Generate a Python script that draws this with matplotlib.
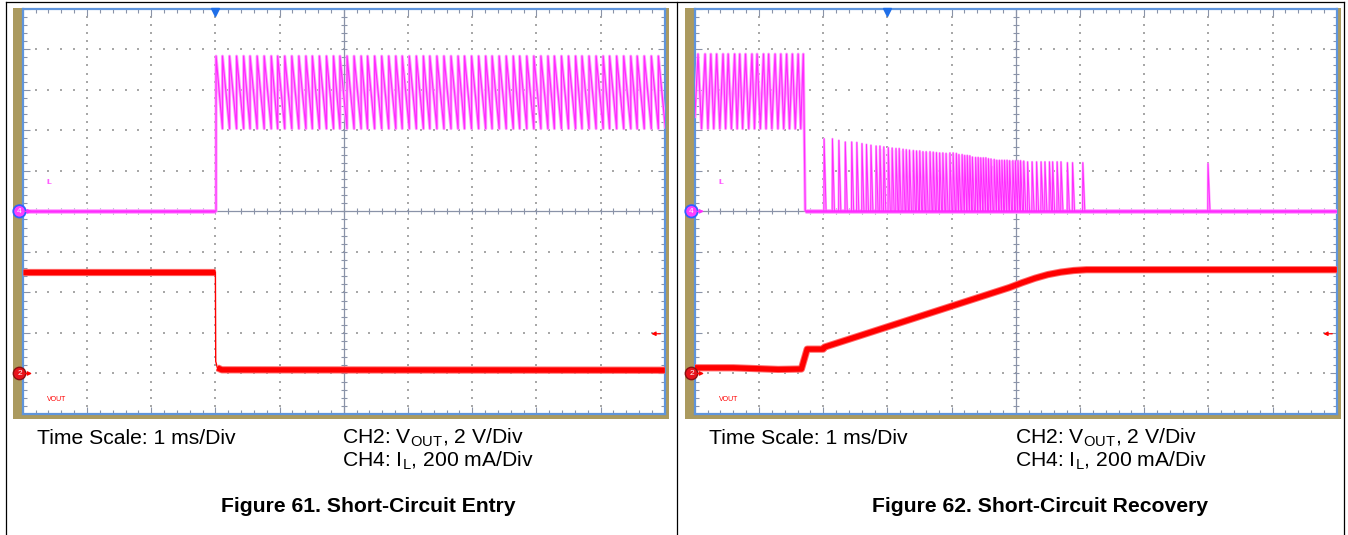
import numpy as np
import matplotlib
matplotlib.use("Agg")
import matplotlib.pyplot as plt
from matplotlib.patches import Rectangle, Circle

plt.rcParams['font.family'] = ['Liberation Sans', 'DejaVu Sans']
plt.rcParams['mathtext.default'] = 'regular'

W, H = 1348, 535

# time in divisions (1 ms/div), amplitude in divisions (screen centre = 0)
# ---- Figure 61: short-circuit entry ----
il_entry_short = 3.0
il_entry_teeth = [3.01, 3.11, 3.22, 3.33, 3.44, 3.54, 3.65, 3.76, 3.87, 3.97,
                  4.08, 4.19, 4.30, 4.41, 4.51, 4.62, 4.73, 4.84, 4.94, 5.05,
                  5.16, 5.27, 5.37, 5.48, 5.59, 5.70, 5.81, 5.91, 6.02, 6.13,
                  6.24, 6.34, 6.45, 6.56, 6.67, 6.78, 6.88, 6.99, 7.10, 7.21,
                  7.31, 7.42, 7.53, 7.64, 7.74, 7.85, 7.96, 8.07, 8.18, 8.28,
                  8.39, 8.50, 8.61, 8.71, 8.82, 8.93, 9.04, 9.14, 9.25, 9.36,
                  9.47, 9.57, 9.68, 9.79, 9.90]
il_entry_top = 3.83
il_entry_bot = 2.04

vout_entry_t = [0.0, 3.00, 3.005, 3.03, 3.10, 10.0]
vout_entry_y = [-1.50, -1.50, -3.70, -3.86, -3.91, -3.92]

# ---- Figure 62: short-circuit recovery ----
il_rec_teeth = [0.05, 0.16, 0.25, 0.34, 0.44, 0.52, 0.62, 0.70, 0.79, 0.89,
                0.97, 1.07, 1.15, 1.25, 1.34, 1.43, 1.52, 1.61, 1.69]
il_rec_top = 3.88
il_rec_bot = 2.04
il_rec_release = 1.72
il_rec_spike_t = [2.01, 2.14, 2.24, 2.34, 2.44, 2.52, 2.60, 2.67, 2.74, 2.82,
                  2.88, 2.94, 3.01, 3.07, 3.13, 3.18, 3.24, 3.29, 3.34, 3.40,
                  3.45, 3.50, 3.55, 3.60, 3.66, 3.71, 3.76, 3.81, 3.86, 3.91,
                  3.97, 4.02, 4.07, 4.11, 4.16, 4.20, 4.24, 4.28, 4.32, 4.37,
                  4.41, 4.45, 4.49, 4.53, 4.57, 4.61, 4.66, 4.70, 4.74, 4.78,
                  4.82, 4.86, 4.90, 4.95, 4.99, 5.03, 5.07, 5.12, 5.18, 5.25,
                  5.32, 5.39, 5.45, 5.52, 5.57, 5.64, 5.70, 5.80, 5.88, 6.04,
                  7.99]
il_rec_spike_h = [1.79, 1.79, 1.75, 1.71, 1.71, 1.70, 1.67, 1.65, 1.63, 1.61,
                  1.61, 1.59, 1.57, 1.56, 1.55, 1.55, 1.53, 1.52, 1.51, 1.50,
                  1.49, 1.49, 1.47, 1.47, 1.47, 1.46, 1.45, 1.44, 1.44, 1.43,
                  1.44, 1.44, 1.43, 1.40, 1.40, 1.38, 1.38, 1.37, 1.34, 1.33,
                  1.33, 1.32, 1.32, 1.32, 1.30, 1.29, 1.28, 1.26, 1.26, 1.26,
                  1.26, 1.26, 1.25, 1.25, 1.25, 1.25, 1.25, 1.24, 1.22, 1.22,
                  1.22, 1.22, 1.22, 1.22, 1.22, 1.22, 1.22, 1.20, 1.20, 1.20,
                  1.18]
# persistence haze between dense spikes
il_rec_glow_t = [2.85, 3.50, 4.00, 4.40]
il_rec_glow_y = [1.55, 1.48, 1.43, 1.33]
il_rec_haze_t = [4.40, 4.70, 5.00, 5.14, 5.16]
il_rec_haze_y = [1.33, 1.27, 1.25, 1.24, 0.0]
il_rec_hump_t = [4.36, 4.45, 4.55, 4.62, 4.70, 4.78, 4.84, 4.88, 4.92, 4.96, 5.00]
il_rec_hump_y = [0.0, 0.55, 1.00, 1.14, 1.05, 0.70, 0.35, 0.60, 0.73, 0.40, 0.0]

vout_rec_t = [0.0, 0.6, 1.3, 1.66, 1.75, 2.0, 2.02, 4.9, 5.1, 5.3, 5.5, 5.7, 5.9, 6.1, 10.0]
vout_rec_y = [-3.86, -3.86, -3.90, -3.89, -3.40, -3.40, -3.35, -1.88, -1.76, -1.65, -1.56, -1.50, -1.46, -1.44, -1.44]

ch4_ground = 0.0
ch2_ground = -4.0
trig_time = 3.0
trig_level = -3.02

TAN = '#ab9a5f'
BLUE = '#5f95dc'
AXC = '#8a93a8'
GRID = '#a8a8a8'
MAG = '#ff2cff'
MAG_LT = '#ffa0ff'
RED = '#ff0000'
RED_LT = '#ff6a6a'

fig = plt.figure(figsize=(W / 100, H / 100), dpi=100)

bg = fig.add_axes([0, 0, 1, 1], zorder=0)
bg.set_xlim(0, W)
bg.set_ylim(H, 0)
bg.axis('off')

ov = fig.add_axes([0, 0, 1, 1], zorder=5)
ov.set_xlim(0, W)
ov.set_ylim(H, 0)
ov.axis('off')
ov.patch.set_alpha(0)

# table frame
bg.plot([5.5, 1343.5], [2, 2], color='black', lw=0.9)
for xl in [5.5, 676.5, 1343.5]:
    bg.plot([xl, xl], [2, H], color='black', lw=0.9)

xsub = np.arange(0, 10.001, 0.2)
ysub = np.arange(-5, 5.001, 0.2)

ARROW = dict(arrowstyle='-|>', lw=0.9, mutation_scale=6, shrinkA=0, shrinkB=0)


def scope(left_px, tan_l, tan_r):
    bg.add_patch(Rectangle((tan_l, 8), tan_r - tan_l, 410.5, color=TAN, lw=0))
    ax = fig.add_axes([left_px / W, 1 - 414 / H, 642 / W, 405.3 / H], zorder=2)
    ax.set_xlim(0, 10)
    ax.set_ylim(-5, 5)
    for gx in [1, 2, 3, 4, 6, 7, 8, 9]:
        ax.scatter(np.full(len(ysub), gx), ysub, s=1.3, c=GRID, marker='s', lw=0, zorder=1)
    for gy in [-4, -3, -2, -1, 1, 2, 3, 4]:
        ax.scatter(xsub, np.full(len(xsub), gy), s=1.3, c=GRID, marker='s', lw=0, zorder=1)
    ax.axhline(0, color=AXC, lw=0.9, zorder=1)
    ax.axvline(5, color=AXC, lw=0.9, zorder=1)
    ax.plot(xsub, np.zeros(len(xsub)), ls='none', marker='|', ms=4.5, mew=0.8, color=AXC, zorder=1)
    ax.plot(np.full(len(ysub), 5.0), ysub, ls='none', marker='_', ms=4.5, mew=0.8, color=AXC, zorder=1)
    ax.set_xticks(range(11))
    ax.set_yticks(range(-5, 6))
    ax.set_xticks(xsub, minor=True)
    ax.set_yticks(ysub, minor=True)
    ax.tick_params(which='both', direction='in', top=True, right=True,
                   labelbottom=False, labelleft=False, color=AXC, width=0.8)
    ax.tick_params(which='major', length=5)
    ax.tick_params(which='minor', length=3)
    for s in ax.spines.values():
        s.set_color(BLUE)
        s.set_linewidth(1.6)
    ax.plot([trig_time], [4.92], marker='v', ms=5.5, color='#1f6fe8', clip_on=False, zorder=6)
    ax.annotate('', xy=(9.79, trig_level), xytext=(9.93, trig_level),
                arrowprops=dict(ARROW, color=RED))
    ax.text(0.37, 0.70, 'IL', color=MAG, fontsize=5, ha='left', va='center')
    ax.text(0.37, -4.63, 'VOUT', color=RED, fontsize=5, ha='left', va='center')

    # channel ground markers (figure pixel space)
    mx = left_px - 3.3
    y4 = 211.35 - ch4_ground * 40.53
    y2 = 211.35 - ch2_ground * 40.53
    ov.add_patch(Circle((mx, y4), 6.2, fc='#ff40ff', ec='#2f5fff', lw=1.3))
    ov.text(mx, y4 + 0.3, '4', color='white', fontsize=6, ha='center', va='center')
    ov.annotate('', xy=(mx + 12.5, y4), xytext=(mx + 6, y4),
                arrowprops=dict(ARROW, color=MAG))
    ov.add_patch(Circle((mx, y2), 6.2, fc='#e8141c', ec='#8a1010', lw=1.0))
    ov.text(mx, y2 + 0.3, '2', color='white', fontsize=6, ha='center', va='center')
    ov.annotate('', xy=(mx + 12.5, y2), xytext=(mx + 6, y2),
                arrowprops=dict(ARROW, color=RED))
    return ax


def trace(ax, x, y, col, col_lt, lw_core, lw_halo):
    ax.plot(x, y, color=col_lt, lw=lw_halo, zorder=3, solid_capstyle='butt')
    ax.plot(x, y, color=col, lw=lw_core, zorder=4, solid_capstyle='butt')


# ---------- left scope ----------
ax1 = scope(22.8, 13, 668.7)
trace(ax1, [0, il_entry_short], [ch4_ground, ch4_ground], MAG, MAG_LT, 1.8, 3.4)
sx = [il_entry_short, il_entry_teeth[0]]
sy = [ch4_ground, ch4_ground]
for i, t in enumerate(il_entry_teeth):
    nxt = il_entry_teeth[i + 1] if i + 1 < len(il_entry_teeth) else t + (t - il_entry_teeth[i - 1])
    sx += [t, nxt]
    sy += [il_entry_top, il_entry_bot]
trace(ax1, sx, sy, MAG, MAG_LT, 0.9, 2.2)

trace(ax1, vout_entry_t[:2], vout_entry_y[:2], RED, RED_LT, 3.8, 5.2)
ax1.plot(vout_entry_t[1:4], vout_entry_y[1:4], color=RED, lw=1.0, zorder=4)
trace(ax1, vout_entry_t[3:], vout_entry_y[3:], RED, RED_LT, 3.8, 5.2)

# ---------- right scope ----------
ax2 = scope(694.8, 685, 1341)
tx = [0.0]
ty = [2.3]
for i, t in enumerate(il_rec_teeth):
    tx.append(t)
    ty.append(il_rec_top)
    if i + 1 < len(il_rec_teeth):
        tx.append((t + il_rec_teeth[i + 1]) / 2)
        ty.append(il_rec_bot)
tx.append(il_rec_release)
ty.append(ch4_ground)
trace(ax2, tx, ty, MAG, MAG_LT, 0.9, 2.2)

ax2.fill_between(il_rec_glow_t, 0, il_rec_glow_y, color=MAG_LT, alpha=0.3, lw=0, zorder=2)
ax2.fill_between(il_rec_haze_t, 0, il_rec_haze_y, color=MAG_LT, alpha=0.7, lw=0, zorder=2)
ax2.fill_between(il_rec_hump_t, 0, il_rec_hump_y, color=MAG, alpha=0.45, lw=0, zorder=2)

trace(ax2, [il_rec_release, 10], [ch4_ground, ch4_ground], MAG, MAG_LT, 1.8, 3.4)
px, py = [il_rec_release], [ch4_ground]
for t, h in zip(il_rec_spike_t, il_rec_spike_h):
    px += [t, t + 0.004, t + 0.035]
    py += [ch4_ground, h, ch4_ground]
px.append(10)
py.append(ch4_ground)
trace(ax2, px, py, MAG, MAG_LT, 0.7, 1.6)

trace(ax2, vout_rec_t, vout_rec_y, RED, RED_LT, 3.8, 5.2)

# ---------- captions ----------
FS = 15.2
for x0, x1, xc, title in [(37, 342, 368.5, 'Figure 61. Short-Circuit Entry'),
                          (709, 1015, 1040.5, 'Figure 62. Short-Circuit Recovery')]:
    bg.text(x0, 443.5, 'Time Scale: 1 ms/Div', fontsize=FS, va='baseline', ha='left')
    bg.text(x1, 443.5, 'CH2: V$_{\\mathregular{OUT}}$, 2 V/Div', fontsize=FS, va='baseline', ha='left')
    bg.text(x1, 467, 'CH4: I$_{\\mathregular{L}}$, 200 mA/Div', fontsize=FS, va='baseline', ha='left')
    bg.text(xc, 512.5, title, fontsize=FS, fontweight='bold', va='baseline', ha='center')

fig.savefig("out.png", dpi=100)
